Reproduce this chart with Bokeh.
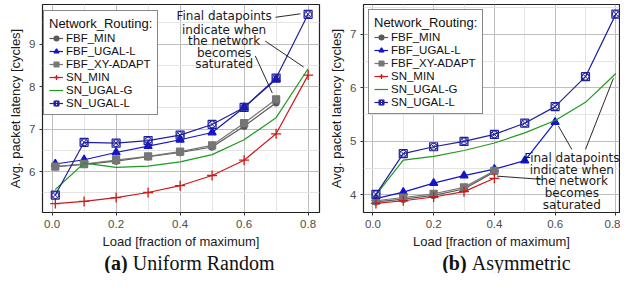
from bokeh.plotting import figure
from bokeh.models import FixedTicker, Range1d, Legend, LegendItem, Label, ColumnDataSource
from bokeh.layouts import row, column
from bokeh.embed import file_html
from bokeh.resources import INLINE
from bokeh.core.properties import value

# ---------------- data ----------------
loads = [0.01, 0.1, 0.2, 0.3, 0.4, 0.5, 0.6, 0.7, 0.8]
x_ticks = [0.0, 0.2, 0.4, 0.6, 0.8]
x_tick_labels = ["0.0", "0.2", "0.4", "0.6", "0.8"]
x_minor = [0.1, 0.3, 0.5, 0.7]

series_names = ["FBF_MIN", "FBF_UGAL-L", "FBF_XY-ADAPT", "SN_MIN", "SN_UGAL-G", "SN_UGAL-L"]

# (a) Uniform Random
ur_fbf_min = [6.12, 6.17, 6.25, 6.35, 6.45, 6.58, 7.07, 7.62]
ur_fbf_ugal_l = [6.18, 6.28, 6.45, 6.60, 6.75, 6.92, 7.51, 8.17]
ur_fbf_xy_adapt = [6.12, 6.18, 6.27, 6.36, 6.47, 6.62, 7.14, 7.70]
ur_sn_min = [5.25, 5.30, 5.39, 5.51, 5.67, 5.91, 6.27, 6.89, 8.27]
ur_sn_ugal_g = [5.58, 6.20, 6.10, 6.13, 6.23, 6.40, 6.75, 7.27, 8.42]
ur_sn_ugal_l = [5.45, 6.69, 6.67, 6.73, 6.86, 7.11, 7.51, 8.20, 9.70]
ur_y_ticks = [6, 7, 8, 9]
ur_y_minor = [5.5, 6.5, 7.5, 8.5, 9.5]

# (b) Asymmetric
as_fbf_min = [3.87, 3.92, 3.99, 4.11, 4.43]
as_fbf_ugal_l = [3.93, 4.05, 4.22, 4.36, 4.48, 4.64, 5.36]
as_fbf_xy_adapt = [3.89, 3.95, 4.02, 4.14, 4.45]
as_sn_min = [3.84, 3.89, 3.96, 4.06, 4.31]
as_sn_ugal_g = [4.00, 4.65, 4.72, 4.83, 4.97, 5.16, 5.39, 5.73, 6.27]
as_sn_ugal_l = [4.01, 4.77, 4.90, 5.00, 5.13, 5.34, 5.65, 6.21, 7.38]
as_y_ticks = [4, 5, 6, 7]
as_y_minor = [4.5, 5.5, 6.5, 7.5]

annot_lines = ["Final datapoints", "indicate when", "the network", "becomes", "saturated"]

STYLE = {
    "FBF_MIN": dict(color="#5a5a5a", marker="circle", size=6, fill=True),
    "FBF_UGAL-L": dict(color="#1414cc", marker="triangle", size=8, fill=True),
    "FBF_XY-ADAPT": dict(color="#767676", marker="square", size=7, fill=True),
    "SN_MIN": dict(color="#d01818", marker="cross", size=10, fill=False),
    "SN_UGAL-G": dict(color="#1f9a1f", marker=None, size=0, fill=False),
    "SN_UGAL-L": dict(color="#20209c", marker="square_x", size=8, fill=False),
}

SANS = "Liberation Sans"


def make_panel(width, min_left, min_right, x_range, y_range, y_ticks, y_minor,
               series, legend_loc, text_x, text_ys, segs):
    p = figure(width=width, height=251, output_backend="svg", toolbar_location=None,
               title=None,
               x_range=Range1d(*x_range), y_range=Range1d(*y_range),
               min_border_left=min_left, min_border_right=min_right,
               min_border_top=4, min_border_bottom=36)
    p.outline_line_color = "#222222"
    p.outline_line_width = 1.2
    p.background_fill_color = "white"

    p.xaxis.ticker = FixedTicker(ticks=x_ticks, minor_ticks=x_minor)
    p.xaxis.major_label_overrides = {t: l for t, l in zip(x_ticks, x_tick_labels)}
    p.yaxis.ticker = FixedTicker(ticks=y_ticks, minor_ticks=y_minor)
    p.yaxis.major_label_overrides = {t: str(t) for t in y_ticks}
    for ax in (p.xaxis[0], p.yaxis[0]):
        ax.axis_line_color = None
        ax.major_tick_out = 3
        ax.major_tick_in = 0
        ax.major_tick_line_color = "#333333"
        ax.minor_tick_line_color = None
        ax.major_label_text_font = SANS
        ax.major_label_text_font_size = "11.5px"
        ax.major_label_text_color = "#4d4d4d"
        ax.major_label_standoff = 3
        ax.axis_label_text_font = SANS
        ax.axis_label_text_font_size = "13px"
        ax.axis_label_text_font_style = "normal"
        ax.axis_label_text_color = "#1a1a1a"
        ax.axis_label_standoff = 3
    p.xaxis.axis_label = "Load [fraction of maximum]"
    p.yaxis.axis_label = "Avg. packet latency [cycles]"

    for g in (p.xgrid[0], p.ygrid[0]):
        g.grid_line_color = "#bdbdbd"
        g.grid_line_width = 1
        g.minor_grid_line_color = "#e4e4e4"
        g.minor_grid_line_width = 1

    items = []
    for name, ys in series:
        st = STYLE[name]
        src = ColumnDataSource(dict(x=loads[:len(ys)], y=ys))
        rs = [p.line("x", "y", source=src, line_color=st["color"], line_width=1.2)]
        if st["marker"] == "square_x":
            rs.append(p.scatter("x", "y", source=src, marker="square", size=8,
                                fill_color="white", fill_alpha=0.0,
                                line_color=st["color"], line_width=1.2))
            rs.append(p.scatter("x", "y", source=src, marker="circle_x", size=7,
                                fill_alpha=0.0, line_color=st["color"], line_width=1.0))
        elif st["marker"] is not None:
            rs.append(p.scatter("x", "y", source=src, marker=st["marker"], size=st["size"],
                                fill_color=st["color"] if st["fill"] else None,
                                line_color=st["color"], line_width=1.3))
        items.append(LegendItem(label=name, renderers=rs))

    # annotation
    p.text(x=[text_x] * len(text_ys), y=text_ys, text=annot_lines,
           text_font=value("DejaVu Sans"), text_font_size=value("12px"),
           text_align="center", text_baseline="middle", text_color="#1a1a1a")
    p.segment(x0=[s[0] for s in segs], y0=[s[1] for s in segs],
              x1=[s[2] for s in segs], y1=[s[3] for s in segs],
              line_color="#111111", line_width=0.9)

    legend = Legend(items=items, location=legend_loc, title="Network_Routing:",
                    border_line_color="#111111", border_line_width=1,
                    background_fill_color="white", background_fill_alpha=1.0,
                    title_text_font=SANS, title_text_font_size="13px",
                    title_text_font_style="normal", title_text_color="#111111",
                    label_text_font=SANS, label_text_font_size="11.5px",
                    label_text_color="#111111",
                    glyph_width=14, glyph_height=12, label_height=12,
                    spacing=1, padding=5, margin=0, label_standoff=3, title_standoff=1)
    p.add_layout(legend)
    return p


def make_caption(width, cap_a, cap_text, cap_x):
    c = figure(width=width, height=22, output_backend="svg", toolbar_location=None,
               title=None,
               x_range=Range1d(0, width), y_range=Range1d(0, 22),
               x_axis_location=None, y_axis_location=None,
               min_border=0, min_border_left=0, min_border_right=0,
               min_border_top=0, min_border_bottom=0)
    c.grid.visible = False
    c.outline_line_color = None
    c.add_layout(Label(x=cap_x, y=11, text=cap_a,
                       text_font="Liberation Serif", text_font_style="bold",
                       text_font_size="20px", text_align="right", text_baseline="middle",
                       text_color="#111111"))
    c.add_layout(Label(x=cap_x + 6, y=11, text=cap_text,
                       text_font="Liberation Serif", text_font_size="20px",
                       text_align="left", text_baseline="middle", text_color="#111111"))
    return c


p1 = make_panel(
    322, 42, 3, (-0.030, 0.8356), (5.04, 9.93), ur_y_ticks, ur_y_minor,
    [("FBF_MIN", ur_fbf_min), ("FBF_UGAL-L", ur_fbf_ugal_l), ("FBF_XY-ADAPT", ur_fbf_xy_adapt),
     ("SN_MIN", ur_sn_min), ("SN_UGAL-G", ur_sn_ugal_g), ("SN_UGAL-L", ur_sn_ugal_l)],
    (1, 97), 0.5375, [9.65, 9.34, 9.07, 8.79, 8.52],
    [(0.698, 9.63, 0.776, 9.71), (0.666, 9.07, 0.786, 8.46), (0.635, 8.72, 0.688, 7.85)])

p2 = make_panel(
    298, 41, 1, (-0.031, 0.812), (3.67, 7.56), as_y_ticks, as_y_minor,
    [("FBF_MIN", as_fbf_min), ("FBF_UGAL-L", as_fbf_ugal_l), ("FBF_XY-ADAPT", as_fbf_xy_adapt),
     ("SN_MIN", as_sn_min), ("SN_UGAL-G", as_sn_ugal_g), ("SN_UGAL-L", as_sn_ugal_l)],
    (5, 98), 0.655, [4.696, 4.473, 4.26, 4.03, 3.818],
    [(0.408, 4.35, 0.555, 4.29), (0.611, 5.285, 0.655, 4.85), (0.70, 4.85, 0.792, 6.18)])

c1 = make_caption(322, "(a)", "Uniform Random", 99)
c2 = make_caption(298, "(b)", "Asymmetric", 120)

layout = row(column(p1, c1), column(p2, c2))
open("out.html", "w").write(file_html(layout, INLINE))
